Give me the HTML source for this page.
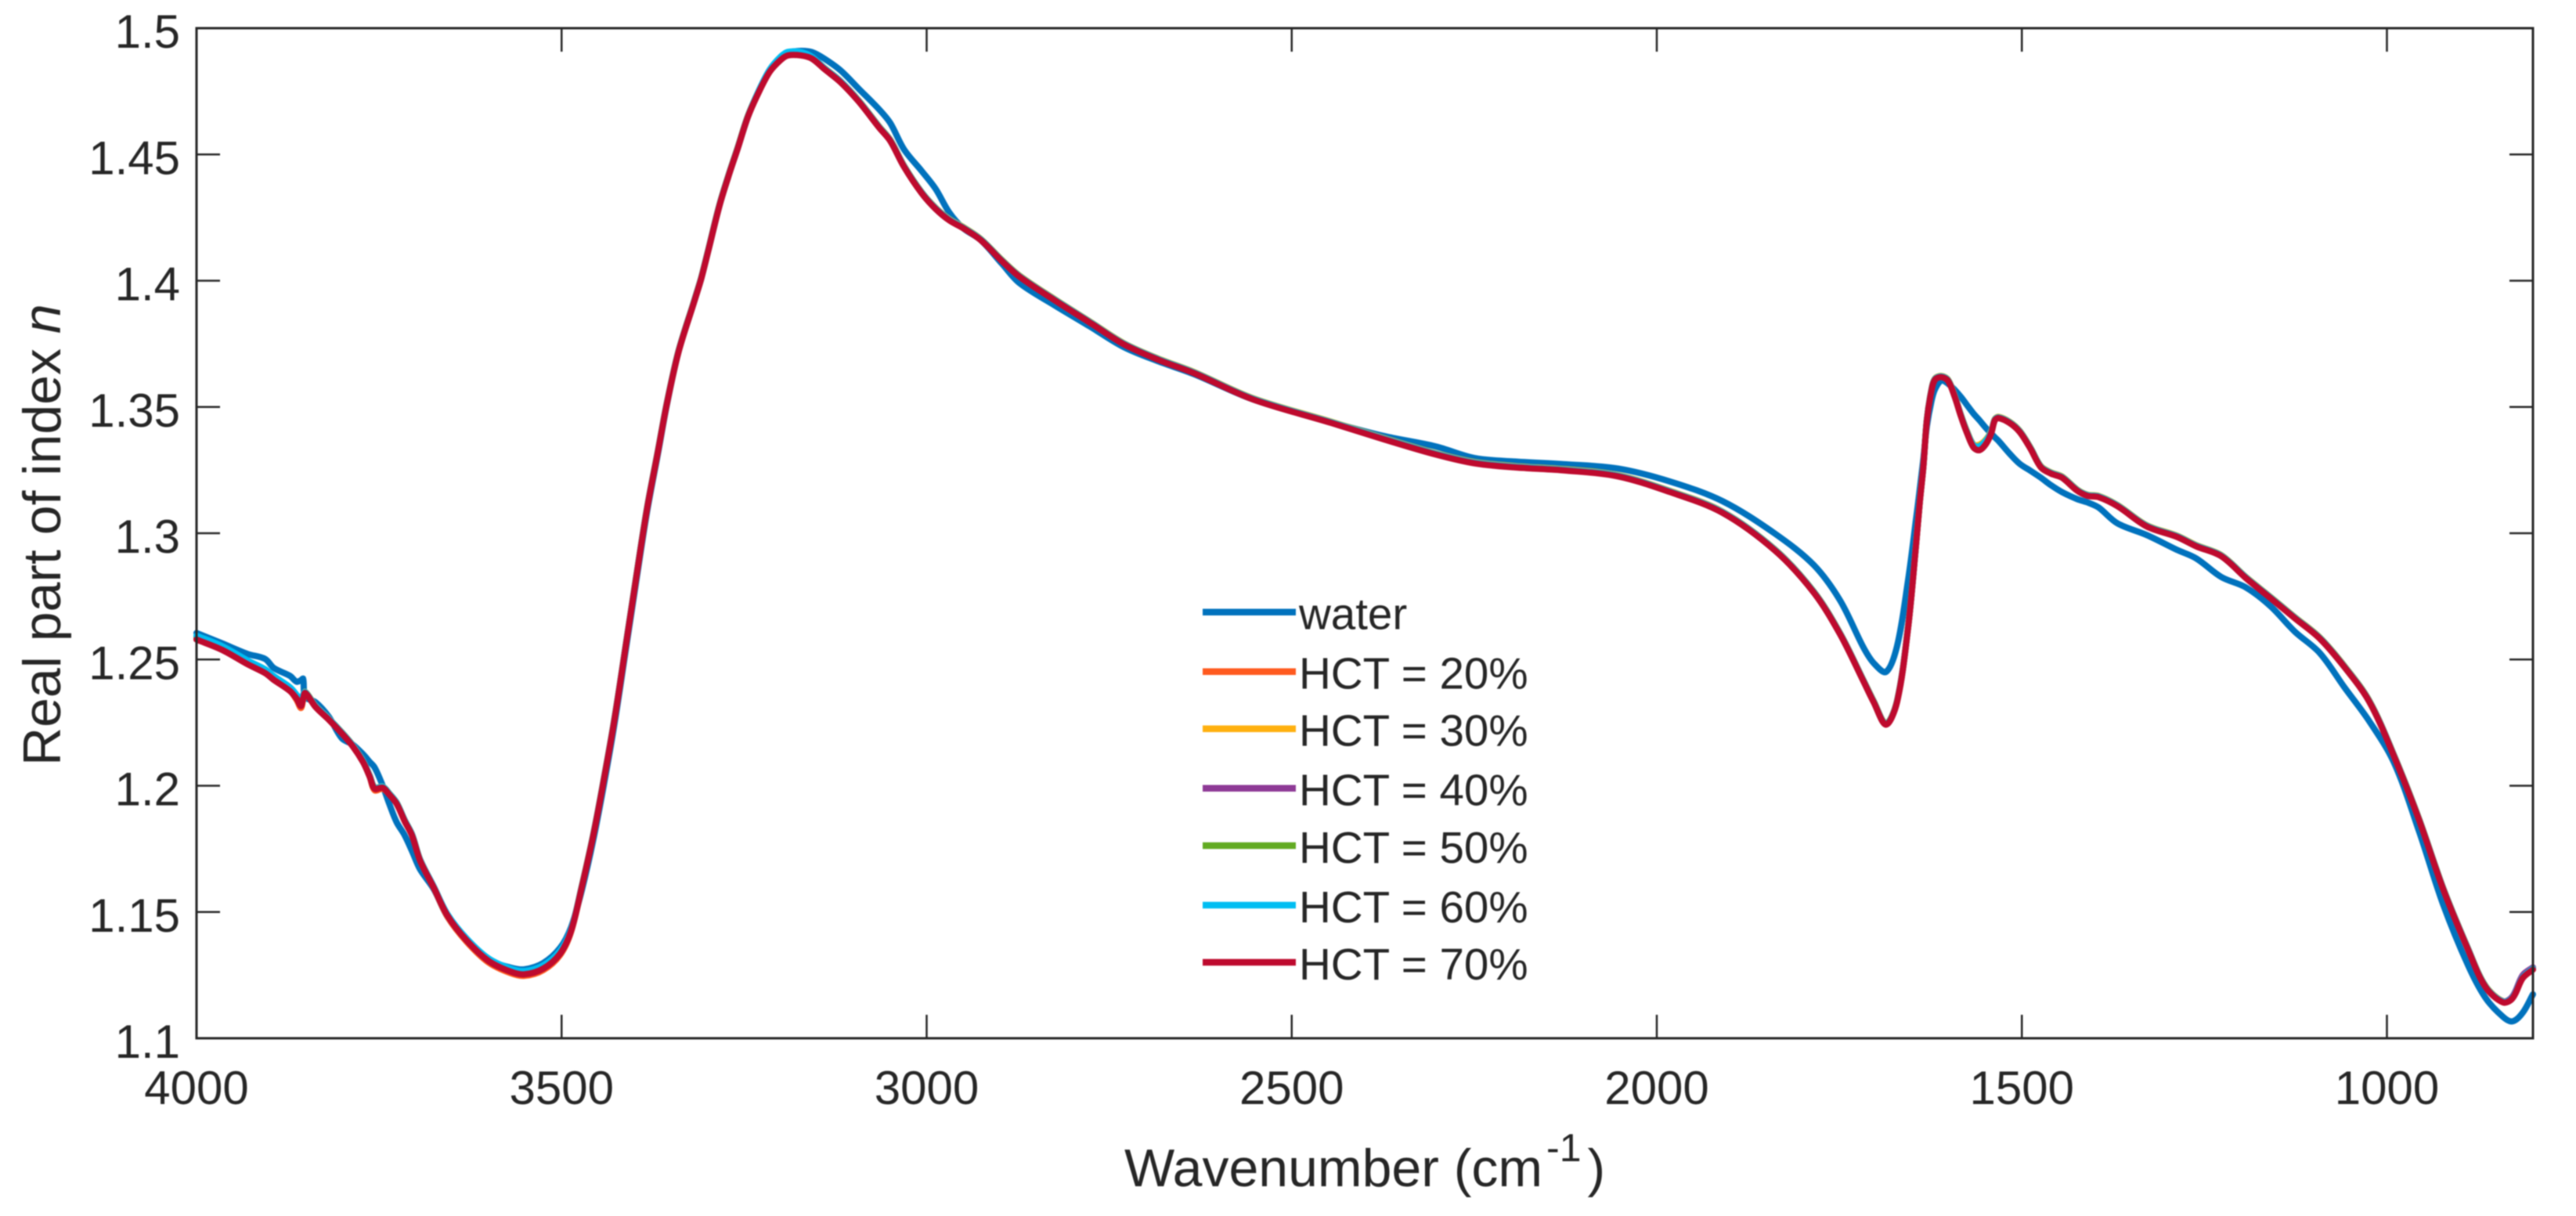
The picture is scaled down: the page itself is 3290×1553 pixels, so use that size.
<!DOCTYPE html>
<html lang="en">
<head>
<meta charset="utf-8">
<title>Real part of refractive index vs wavenumber</title>
<style>
html,body{margin:0;padding:0;background:#fff;width:3290px;height:1553px;overflow:hidden}
svg{display:block;filter:blur(.7px)}
text{font-family:"Liberation Sans",sans-serif;fill:#262626}
</style>
</head>
<body>
<svg id="chart" xmlns="http://www.w3.org/2000/svg" width="3290" height="1553" viewBox="0 0 3290 1553">
  <rect x="0" y="0" width="3290" height="1553" fill="#fff"/>
  <g id="series"></g>
  <g id="ticks"></g>
  <rect x="251" y="36" width="2984" height="1290" fill="none" stroke="#262626" stroke-width="3"/>
  <g id="legend"></g>
  <text x="1436" y="1515" font-size="68">Wavenumber (cm<tspan font-size="50" dy="-32" dx="5">-1</tspan><tspan font-size="68" dy="32" dx="8">)</tspan></text>
  <text transform="translate(77,978) rotate(-90)" font-size="68">Real part of index <tspan font-style="italic">n</tspan></text>
</svg>
<script>
const xTickValues = [4000, 3500, 3000, 2500, 2000, 1500, 1000];
const xTickLabels = ["4000", "3500", "3000", "2500", "2000", "1500", "1000"];
const yTickValues = [1.1, 1.15, 1.2, 1.25, 1.3, 1.35, 1.4, 1.45, 1.5];
const yTickLabels = ["1.1", "1.15", "1.2", "1.25", "1.3", "1.35", "1.4", "1.45", "1.5"];
const seriesNames = ["water", "HCT = 20%", "HCT = 30%", "HCT = 40%", "HCT = 50%", "HCT = 60%", "HCT = 70%"];

const wavenumber = [
4000,3965,3930,3906,3894,3872,3863,3857,3854,3851,
3837,3819,3801,3786,3772,3763,3756,3745,3736,3726,
3715,3705,3694,3675,3656,3630,3600,3570,3551,3525,
3502,3487,3472,3457,3442,3427,3412,3397,3383,3368,
3356,3340,3318,3309,3299,3284,3272,3259,3245,3231,
3215,3200,3190,3172,3157,3140,3118,3093,3065,3050,
3031,3007,2988,2969,2950,2926,2897,2873,2825,2777,
2730,2682,2634,2553,2446,2374,2303,2250,2196,2124,
2053,1982,1910,1838,1785,1749,1717,1703,1686,1671,
1656,1645,1640,1635,1630,1624,1619,1610,1601,1592,
1583,1575,1566,1558,1549,1542,1537,1532,1517,1503,
1488,1474,1460,1445,1424,1410,1395,1369,1329,1288,
1261,1227,1193,1159,1126,1092,1058,1024,990,956,
923,889,865,841,828,814,800];

const nWater = [
1.2605,1.2564,1.2522,1.2502,1.2466,1.2435,1.2412,1.2418,1.2424,1.2352,
1.2331,1.2274,1.2188,1.2163,1.2125,1.2095,1.2072,1.2000,1.1928,1.1856,
1.1804,1.1742,1.1670,1.1590,1.1480,1.1385,1.1310,1.1280,1.1273,1.1298,
1.1358,1.1440,1.1590,1.1780,1.2005,1.2255,1.2540,1.2825,1.3085,1.3315,
1.3505,1.3716,1.3921,1.4006,1.4120,1.4295,1.4409,1.4522,1.4647,1.4745,
1.4835,1.4885,1.4903,1.4910,1.4905,1.4879,1.4833,1.4760,1.4678,1.4625,
1.4520,1.4435,1.4365,1.4270,1.4208,1.4161,1.4068,1.3991,1.3903,1.3820,
1.3737,1.3680,1.3630,1.3530,1.3440,1.3385,1.3344,1.3298,1.3284,1.3273,
1.3256,1.3205,1.3127,1.2998,1.2874,1.2734,1.2548,1.2486,1.2451,1.2552,
1.2811,1.3053,1.3170,1.3292,1.3425,1.3520,1.3570,1.3605,1.3592,1.3568,
1.3538,1.3507,1.3473,1.3447,1.3416,1.3395,1.3380,1.3366,1.3316,1.3275,
1.3247,1.3220,1.3190,1.3163,1.3135,1.3122,1.3102,1.3039,1.2993,1.2935,
1.2900,1.2827,1.2785,1.2710,1.2610,1.2526,1.2389,1.2255,1.2090,1.1820,
1.1530,1.1290,1.1160,1.1085,1.1067,1.1101,1.1174];

const nHct20 = [
1.2580,1.2539,1.2482,1.2447,1.2420,1.2376,1.2340,1.2308,1.2340,1.2368,
1.2313,1.2263,1.2208,1.2157,1.2095,1.2038,1.1982,1.1988,1.1966,1.1930,
1.1861,1.1805,1.1706,1.1595,1.1480,1.1382,1.1300,1.1258,1.1247,1.1270,
1.1330,1.1422,1.1603,1.1798,1.2026,1.2273,1.2556,1.2840,1.3097,1.3324,
1.3510,1.3717,1.3922,1.4007,1.4121,1.4296,1.4410,1.4523,1.4648,1.4741,
1.4828,1.4875,1.4893,1.4893,1.4880,1.4839,1.4787,1.4710,1.4607,1.4555,
1.4452,1.4348,1.4286,1.4240,1.4209,1.4162,1.4079,1.4017,1.3924,1.3836,
1.3749,1.3687,1.3635,1.3531,1.3438,1.3373,1.3313,1.3278,1.3262,1.3249,
1.3226,1.3164,1.3082,1.2932,1.2766,1.2601,1.2415,1.2332,1.2243,1.2332,
1.2623,1.2952,1.3118,1.3262,1.3448,1.3562,1.3609,1.3619,1.3604,1.3541,
1.3460,1.3397,1.3340,1.3332,1.3356,1.3397,1.3448,1.3457,1.3438,1.3402,
1.3335,1.3262,1.3237,1.3221,1.3169,1.3149,1.3144,1.3108,1.3028,1.2987,
1.2949,1.2910,1.2823,1.2743,1.2664,1.2584,1.2470,1.2333,1.2116,1.1866,
1.1592,1.1353,1.1204,1.1143,1.1159,1.1239,1.1273];

const nHct30 = [
1.2584,1.2543,1.2486,1.2451,1.2424,1.2380,1.2350,1.2321,1.2350,1.2372,
1.2317,1.2267,1.2212,1.2161,1.2099,1.2042,1.1993,1.1997,1.1970,1.1934,
1.1865,1.1809,1.1710,1.1600,1.1488,1.1391,1.1310,1.1268,1.1257,1.1280,
1.1339,1.1430,1.1608,1.1802,1.2030,1.2277,1.2560,1.2844,1.3101,1.3328,
1.3514,1.3721,1.3926,1.4011,1.4125,1.4300,1.4414,1.4527,1.4652,1.4745,
1.4832,1.4879,1.4897,1.4897,1.4884,1.4843,1.4791,1.4714,1.4611,1.4559,
1.4456,1.4352,1.4290,1.4244,1.4213,1.4166,1.4083,1.4021,1.3928,1.3840,
1.3753,1.3691,1.3639,1.3535,1.3442,1.3377,1.3317,1.3282,1.3266,1.3253,
1.3230,1.3168,1.3086,1.2936,1.2770,1.2605,1.2419,1.2336,1.2247,1.2336,
1.2627,1.2956,1.3122,1.3266,1.3452,1.3566,1.3613,1.3623,1.3608,1.3545,
1.3465,1.3404,1.3351,1.3351,1.3372,1.3405,1.3452,1.3461,1.3442,1.3406,
1.3339,1.3266,1.3241,1.3225,1.3173,1.3153,1.3148,1.3112,1.3032,1.2991,
1.2953,1.2914,1.2827,1.2747,1.2668,1.2588,1.2474,1.2337,1.2120,1.1870,
1.1596,1.1357,1.1208,1.1147,1.1163,1.1243,1.1277];

const nHct40 = [
1.2587,1.2546,1.2489,1.2454,1.2427,1.2383,1.2353,1.2325,1.2354,1.2368,
1.2315,1.2265,1.2210,1.2159,1.2097,1.2040,1.1991,1.1995,1.1968,1.1932,
1.1863,1.1807,1.1708,1.1598,1.1486,1.1389,1.1309,1.1267,1.1256,1.1279,
1.1337,1.1427,1.1605,1.1799,1.2027,1.2274,1.2557,1.2841,1.3098,1.3325,
1.3511,1.3718,1.3923,1.4008,1.4122,1.4297,1.4411,1.4524,1.4649,1.4742,
1.4829,1.4876,1.4894,1.4894,1.4881,1.4840,1.4788,1.4711,1.4608,1.4556,
1.4453,1.4349,1.4287,1.4241,1.4210,1.4163,1.4080,1.4018,1.3925,1.3837,
1.3750,1.3688,1.3636,1.3532,1.3439,1.3374,1.3314,1.3279,1.3263,1.3250,
1.3227,1.3165,1.3083,1.2933,1.2767,1.2602,1.2416,1.2333,1.2244,1.2333,
1.2624,1.2953,1.3119,1.3263,1.3449,1.3563,1.3610,1.3620,1.3605,1.3542,
1.3461,1.3398,1.3342,1.3335,1.3358,1.3398,1.3449,1.3458,1.3439,1.3403,
1.3336,1.3263,1.3238,1.3222,1.3170,1.3150,1.3145,1.3109,1.3029,1.2988,
1.2950,1.2911,1.2824,1.2744,1.2665,1.2585,1.2471,1.2334,1.2117,1.1867,
1.1593,1.1354,1.1205,1.1146,1.1166,1.1250,1.1281];

const nHct50 = [
1.2591,1.2550,1.2493,1.2458,1.2431,1.2387,1.2357,1.2329,1.2358,1.2369,
1.2314,1.2264,1.2209,1.2158,1.2096,1.2039,1.1990,1.1994,1.1967,1.1931,
1.1862,1.1806,1.1707,1.1598,1.1487,1.1391,1.1311,1.1270,1.1259,1.1282,
1.1340,1.1428,1.1605,1.1799,1.2027,1.2274,1.2557,1.2841,1.3098,1.3325,
1.3511,1.3718,1.3923,1.4008,1.4122,1.4297,1.4411,1.4524,1.4649,1.4743,
1.4830,1.4877,1.4896,1.4896,1.4881,1.4840,1.4788,1.4711,1.4608,1.4556,
1.4453,1.4349,1.4287,1.4241,1.4210,1.4163,1.4080,1.4018,1.3925,1.3837,
1.3750,1.3688,1.3636,1.3532,1.3439,1.3374,1.3314,1.3279,1.3263,1.3250,
1.3227,1.3165,1.3083,1.2933,1.2767,1.2602,1.2416,1.2333,1.2244,1.2333,
1.2624,1.2953,1.3119,1.3263,1.3449,1.3563,1.3610,1.3620,1.3605,1.3542,
1.3461,1.3398,1.3343,1.3338,1.3360,1.3398,1.3449,1.3458,1.3439,1.3403,
1.3336,1.3263,1.3238,1.3222,1.3170,1.3150,1.3145,1.3109,1.3029,1.2988,
1.2950,1.2911,1.2824,1.2744,1.2665,1.2585,1.2471,1.2334,1.2117,1.1867,
1.1593,1.1354,1.1205,1.1144,1.1160,1.1241,1.1276];

const nHct60 = [
1.2594,1.2553,1.2496,1.2461,1.2434,1.2390,1.2360,1.2332,1.2361,1.2371,
1.2316,1.2266,1.2211,1.2160,1.2098,1.2041,1.1992,1.1996,1.1969,1.1933,
1.1864,1.1808,1.1709,1.1600,1.1490,1.1395,1.1316,1.1276,1.1266,1.1289,
1.1347,1.1432,1.1606,1.1800,1.2028,1.2275,1.2558,1.2842,1.3099,1.3326,
1.3512,1.3719,1.3924,1.4009,1.4123,1.4298,1.4412,1.4525,1.4650,1.4746,
1.4836,1.4887,1.4906,1.4905,1.4886,1.4842,1.4790,1.4712,1.4609,1.4557,
1.4454,1.4350,1.4288,1.4242,1.4211,1.4164,1.4081,1.4019,1.3926,1.3838,
1.3751,1.3689,1.3637,1.3533,1.3440,1.3375,1.3315,1.3280,1.3264,1.3251,
1.3228,1.3166,1.3084,1.2934,1.2768,1.2603,1.2417,1.2334,1.2245,1.2334,
1.2625,1.2954,1.3120,1.3264,1.3450,1.3564,1.3611,1.3621,1.3606,1.3543,
1.3463,1.3401,1.3348,1.3345,1.3368,1.3402,1.3450,1.3459,1.3440,1.3404,
1.3337,1.3264,1.3239,1.3223,1.3171,1.3151,1.3146,1.3110,1.3030,1.2989,
1.2951,1.2912,1.2825,1.2745,1.2666,1.2586,1.2472,1.2335,1.2118,1.1868,
1.1594,1.1355,1.1206,1.1145,1.1161,1.1242,1.1276];

const nHct70 = [
1.2579,1.2538,1.2481,1.2446,1.2419,1.2375,1.2345,1.2316,1.2345,1.2367,
1.2312,1.2262,1.2207,1.2156,1.2094,1.2037,1.1988,1.1992,1.1965,1.1929,
1.1860,1.1804,1.1705,1.1596,1.1484,1.1387,1.1306,1.1264,1.1253,1.1276,
1.1335,1.1425,1.1603,1.1797,1.2025,1.2272,1.2555,1.2839,1.3096,1.3323,
1.3509,1.3716,1.3921,1.4006,1.4120,1.4295,1.4409,1.4522,1.4647,1.4740,
1.4827,1.4874,1.4892,1.4892,1.4879,1.4838,1.4786,1.4709,1.4606,1.4554,
1.4451,1.4347,1.4285,1.4239,1.4208,1.4161,1.4078,1.4016,1.3923,1.3835,
1.3748,1.3686,1.3634,1.3530,1.3437,1.3372,1.3312,1.3277,1.3261,1.3248,
1.3225,1.3163,1.3081,1.2931,1.2765,1.2600,1.2414,1.2331,1.2242,1.2331,
1.2622,1.2951,1.3117,1.3261,1.3447,1.3561,1.3608,1.3618,1.3603,1.3540,
1.3459,1.3396,1.3339,1.3329,1.3354,1.3396,1.3447,1.3456,1.3437,1.3401,
1.3334,1.3261,1.3236,1.3220,1.3168,1.3148,1.3143,1.3107,1.3027,1.2986,
1.2948,1.2909,1.2822,1.2742,1.2663,1.2583,1.2469,1.2332,1.2115,1.1865,
1.1591,1.1352,1.1203,1.1142,1.1158,1.1238,1.1272];

const allSeries = [nWater, nHct20, nHct30, nHct40, nHct50, nHct60, nHct70];
const seriesColors = ["#0072BD", "#FF5A1F", "#FFB00F", "#8E3A96", "#62AB22", "#00BEF2", "#BE0A2E"];

const NS = "http://www.w3.org/2000/svg";
const plot = {left: 251, right: 3235, top: 36, bottom: 1326};
const xDomain = {from: 4000, to: 800};
const yDomain = {from: 1.1, to: 1.5};

function xScale(v) {
  return plot.left + (xDomain.from - v) / (xDomain.from - xDomain.to) * (plot.right - plot.left);
}
function yScale(v) {
  return plot.bottom - (v - yDomain.from) / (yDomain.to - yDomain.from) * (plot.bottom - plot.top);
}
function make(tag, attrs, parent) {
  const el = document.createElementNS(NS, tag);
  for (const k in attrs) el.setAttribute(k, attrs[k]);
  parent.appendChild(el);
  return el;
}
function smoothPath(p) {
  let d = "M" + p[0][0].toFixed(1) + " " + p[0][1].toFixed(1);
  for (let i = 0; i < p.length - 1; i++) {
    const p0 = p[Math.max(i - 1, 0)], p1 = p[i], p2 = p[i + 1], p3 = p[Math.min(i + 2, p.length - 1)];
    const d1 = Math.hypot(p1[0] - p0[0], p1[1] - p0[1]);
    const d2 = Math.hypot(p2[0] - p1[0], p2[1] - p1[1]);
    const d3 = Math.hypot(p3[0] - p2[0], p3[1] - p2[1]);
    const t1 = d1 + d2 > 0 ? d2 / (d1 + d2) / 3 : 0;
    const t2 = d2 + d3 > 0 ? d2 / (d2 + d3) / 3 : 0;
    const c1x = p1[0] + (p2[0] - p0[0]) * t1, c1y = p1[1] + (p2[1] - p0[1]) * t1;
    const c2x = p2[0] - (p3[0] - p1[0]) * t2, c2y = p2[1] - (p3[1] - p1[1]) * t2;
    d += "C" + c1x.toFixed(1) + " " + c1y.toFixed(1) + " " + c2x.toFixed(1) + " " + c2y.toFixed(1) + " " + p2[0].toFixed(1) + " " + p2[1].toFixed(1);
  }
  return d;
}

const seriesGroup = document.getElementById("series");
allSeries.forEach(function (values, i) {
  const pts = values.map(function (v, j) {
    return [xScale(wavenumber[j]), yScale(v)];
  });
  const line = make("path", {d: smoothPath(pts), fill: "none", stroke: seriesColors[i], "stroke-width": 8, "stroke-linejoin": "round", "stroke-linecap": "round"}, seriesGroup);
  
  
});

const tickGroup = document.getElementById("ticks");
const tickLen = 30;
xTickValues.forEach(function (v, i) {
  const x = xScale(v);
  const bottomTick = make("line", {x1: x, x2: x, y1: plot.bottom, y2: plot.bottom - tickLen, stroke: "#262626", "stroke-width": 2.5}, tickGroup);
  
  
  const topTick = make("line", {x1: x, x2: x, y1: plot.top, y2: plot.top + tickLen, stroke: "#262626", "stroke-width": 2.5}, tickGroup);
  
  
  const label = make("text", {x: x, y: 1410, "font-size": 60, "text-anchor": "middle"}, tickGroup);
  
  
  label.textContent = xTickLabels[i];
});
yTickValues.forEach(function (v, i) {
  const y = yScale(v);
  const leftTick = make("line", {x1: plot.left, x2: plot.left + tickLen, y1: y, y2: y, stroke: "#262626", "stroke-width": 2.5}, tickGroup);
  
  
  const rightTick = make("line", {x1: plot.right, x2: plot.right - tickLen, y1: y, y2: y, stroke: "#262626", "stroke-width": 2.5}, tickGroup);
  
  
  const label = make("text", {x: 230, y: y + 25, "font-size": 60, "text-anchor": "end"}, tickGroup);
  
  
  label.textContent = yTickLabels[i];
});

const legendGroup = document.getElementById("legend");
const legendRows = [781.7, 857.7, 930.7, 1006.7, 1080, 1156, 1229];
seriesNames.forEach(function (name, i) {
  const swatch = make("line", {x1: 1536, x2: 1655, y1: legendRows[i], y2: legendRows[i], stroke: seriesColors[i], "stroke-width": 8.5}, legendGroup);
  
  
  const label = make("text", {x: 1659, y: legendRows[i] + 22, "font-size": 56.5}, legendGroup);
  
  
  label.textContent = name;
});
</script>
</body>
</html>
